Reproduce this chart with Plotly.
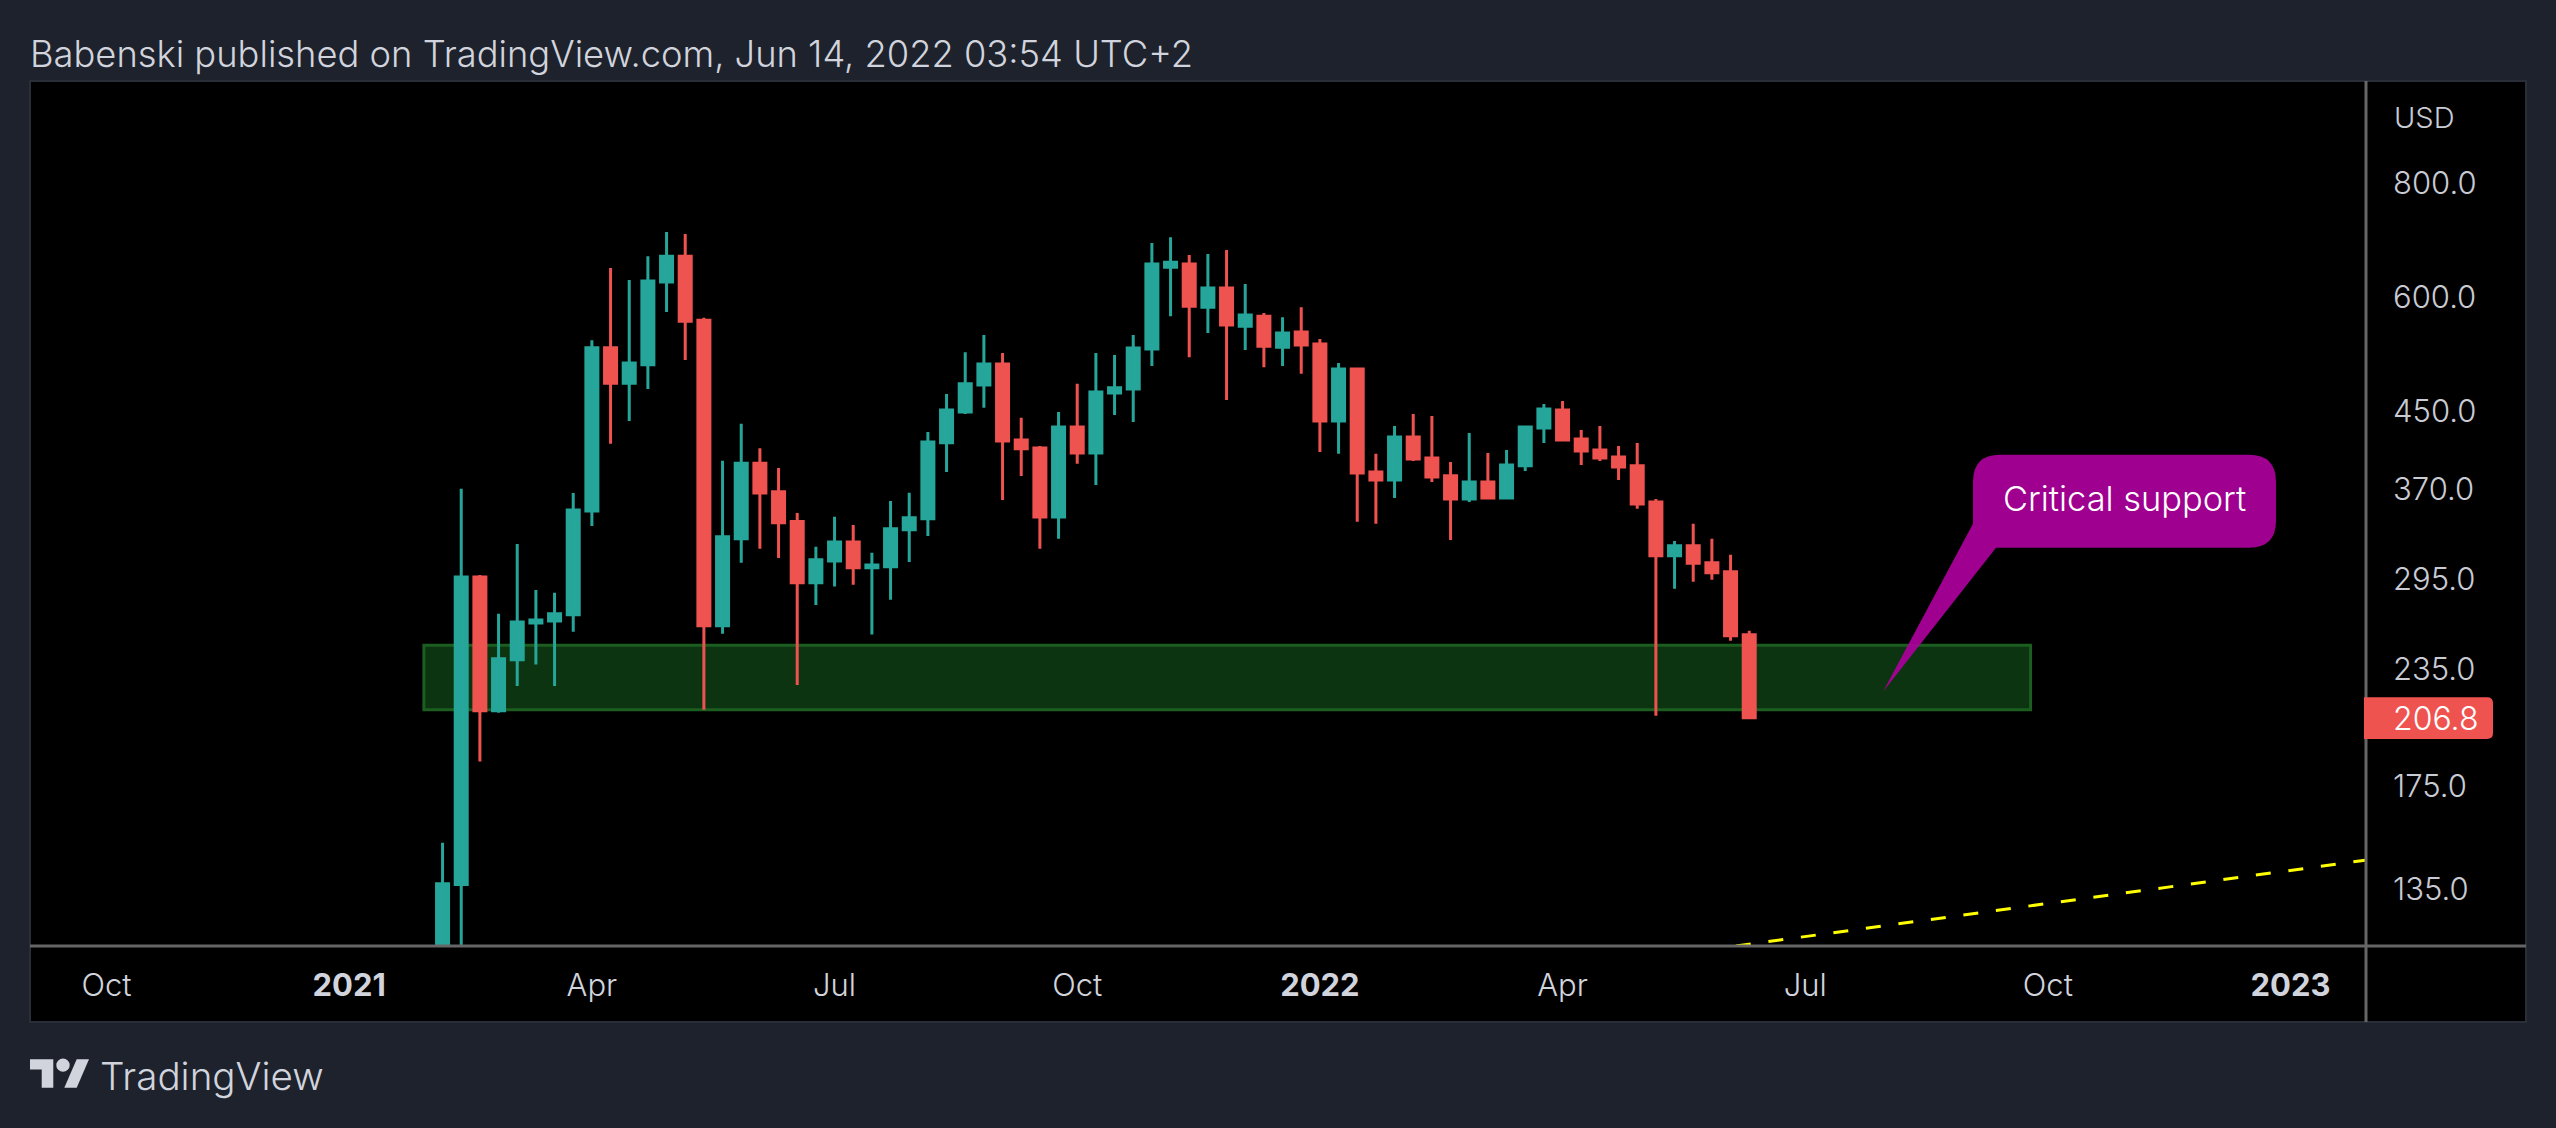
import numpy as np
import pandas as pd
import plotly.graph_objs as go

# weekly candles, first bar is the week of 2021-02-08
dates = pd.date_range("2021-02-08", periods=71, freq="7D")

opens = [88, 135.8, 295.0, 210.5, 239.4, 262.7, 264.0, 268.2, 348.3, 525.8, 481.0, 503.8, 620.8, 662.4, 563.7,
         260.8, 324.9, 393.1, 365.8, 339.2, 290.8, 307.2, 322.2, 302.0, 302.7, 332.2, 341.6, 413.8, 447.2, 478.8,
         504.9, 416.8, 408.5, 343.2, 430.5, 403.4, 469.3, 474.0, 524.4, 644.4, 649.7, 582.6, 611.5, 555.3, 569.5,
         526.7, 547.1, 531.0, 437.1, 498.5, 384.5, 376.8, 419.9, 398.3, 380.7, 359.2, 374.9, 360.1, 390.4, 429.5,
         449.5, 417.8, 406.4, 399.3, 390.4, 356.5, 311.2, 319.1, 305.7, 298.9, 255.0]
highs = [150.9, 368.4, 296.5, 268.8, 320.5, 285.5, 283.4, 364.5, 536.1, 643.1, 623.7, 662.4, 704.0, 700.7, 567.1,
         395.5, 434.1, 408.2, 388.4, 346.7, 318.3, 343.3, 336.3, 313.6, 357.4, 364.8, 425.2, 468.1, 520.1, 543.1,
         519.1, 440.7, 410.4, 447.2, 480.1, 519.1, 516.4, 543.1, 685.0, 695.1, 664.4, 666.2, 672.8, 617.7, 574.1,
         568.1, 582.6, 537.7, 506.2, 499.7, 402.4, 431.8, 445.0, 442.8, 394.3, 424.2, 403.3, 406.4, 431.8, 456.4,
         459.8, 427.4, 431.8, 410.5, 413.6, 359.2, 323.1, 337.3, 324.8, 311.9, 257.6]
lows = [85, 108, 185.2, 209.5, 224.1, 236.5, 224.1, 257.0, 335.4, 412.8, 437.2, 474.0, 575.5, 509.9, 211.1,
        255.7, 305.7, 316.7, 309.4, 224.6, 274.9, 287.9, 289.3, 255.1, 278.5, 306.4, 327.2, 384.4, 445.1, 451.9,
        358.3, 380.5, 316.8, 324.8, 392.4, 372.1, 443.9, 436.2, 502.1, 569.5, 513.6, 545.9, 461.0, 522.9, 500.8,
        502.1, 492.4, 404.3, 402.4, 339.0, 337.3, 360.1, 395.3, 374.9, 323.9, 356.5, 360.1, 359.2, 385.5, 413.6,
        416.8, 391.3, 395.3, 376.8, 350.3, 207.9, 286.3, 291.5, 292.9, 251.1, 206.8]
closes = [136.1, 295.0, 210.5, 240.0, 263.4, 264.6, 268.8, 349.2, 525.8, 481.0, 506.2, 622.3, 662.4, 562.3, 260.8,
          326.5, 393.1, 364.5, 338.3, 290.8, 308.0, 322.2, 302.0, 304.0, 333.1, 342.5, 414.6, 449.5, 480.1, 504.9,
          415.6, 407.5, 343.2, 430.5, 403.4, 470.3, 475.3, 525.7, 649.7, 652.6, 584.1, 611.5, 556.9, 571.1, 528.0,
          545.9, 529.5, 437.1, 498.6, 383.5, 376.8, 419.9, 397.3, 379.7, 359.2, 374.9, 360.1, 391.3, 430.7, 450.7,
          416.8, 405.4, 398.3, 389.2, 354.7, 311.2, 319.1, 305.3, 298.1, 254.3, 206.8]

# support zone and the dashed trend line
zone_dates = ["2021-02-01", "2022-09-26 12:00"]
zone_prices = [211.0, 248.3]
trend_dates = ["2022-06-08", "2023-01-30"]
trend_prices = [116.3, 144.4]

price_ticks = [135, 175, 235, 295, 370, 450, 600, 800]
price_labels = ["135.0", "175.0", "235.0", "295.0", "370.0", "450.0", "600.0", "800.0"]
date_ticks = ["2020-10-05", "2021-01-04", "2021-04-05", "2021-07-05", "2021-10-04",
              "2022-01-03", "2022-04-04", "2022-07-04", "2022-10-03", "2023-01-02"]
date_labels = ["Oct", "<b>2021</b>", "Apr", "Jul", "Oct", "<b>2022</b>", "Apr", "Jul", "Oct", "<b>2023</b>"]
last_price = "206.8"

BG = "#1e222d"
TEXT = "#d1d4dc"
UP = "#26a69a"
DOWN = "#ef5350"
FONT = "Inter"

# plot area edges in page pixels
LEFT, RIGHT, TOP, BOTTOM = 30, 2366, 81, 946.5


def px(x):
    return (x - LEFT) / (RIGHT - LEFT)


def py(y):
    return (BOTTOM - y) / (BOTTOM - TOP)


def page_path(*cmds):
    # cmds are (letter, x, y) or (letter, x1, y1, x, y) in page pixels
    out = ""
    for c in cmds:
        out += c[0]
        vals = c[1:]
        out += " ".join(f"{px(vals[i]):.5f},{py(vals[i + 1]):.5f}" for i in range(0, len(vals), 2)) + " "
    return out + "Z"


fig = go.Figure()

fig.add_trace(go.Candlestick(
    x=dates, open=opens, high=highs, low=lows, close=closes,
    increasing=dict(line=dict(color=UP, width=3), fillcolor=UP),
    decreasing=dict(line=dict(color=DOWN, width=3), fillcolor=DOWN),
    whiskerwidth=0, showlegend=False,
))
fig.add_trace(go.Scatter(
    x=trend_dates, y=trend_prices, mode="lines", showlegend=False,
    line=dict(color="#ffff00", width=3, dash="15px,17.8px"),
))

shapes = [
    # black panel with its border
    dict(type="rect", xref="paper", yref="paper", x0=px(30), x1=px(2526), y0=py(1022.5), y1=py(81),
         fillcolor="#000000", line=dict(color="#2a2e39", width=2), layer="below"),
    # support zone
    dict(type="rect", xref="x", yref="y", x0=zone_dates[0], x1=zone_dates[1], y0=zone_prices[0], y1=zone_prices[1],
         fillcolor="#0c3410", line=dict(color="#1b5e20", width=3), layer="below"),
    # axis lines
    dict(type="line", xref="paper", yref="paper", x0=px(RIGHT), x1=px(RIGHT), y0=py(1022.5), y1=py(81),
         line=dict(color="#666666", width=3), layer="above"),
    dict(type="line", xref="paper", yref="paper", x0=px(30), x1=px(2526), y0=py(BOTTOM), y1=py(BOTTOM),
         line=dict(color="#666666", width=3), layer="above"),
    # last price tag
    dict(type="path", xref="paper", yref="paper", layer="above", fillcolor=DOWN, line=dict(width=0),
         path=page_path(("M", 2364, 697.5), ("L", 2487, 697.5), ("Q", 2493, 697.5, 2493, 703.5),
                        ("L", 2493, 733.5), ("Q", 2493, 739.5, 2487, 739.5), ("L", 2364, 739.5))),
    # callout with its pointer
    dict(type="path", xref="paper", yref="paper", layer="above", fillcolor="rgba(172,0,155,0.92)", line=dict(width=0),
         path=page_path(("M", 2000, 455), ("L", 2249, 455), ("Q", 2276, 455, 2276, 482),
                        ("L", 2276, 521), ("Q", 2276, 548, 2249, 548), ("L", 1996, 548),
                        ("L", 1883, 692), ("L", 1973, 524), ("L", 1973, 482), ("Q", 1973, 455, 2000, 455))),
    # TradingView logo
    dict(type="path", xref="paper", yref="paper", fillcolor=TEXT, line=dict(width=0),
         path=page_path(("M", 30, 1059.7), ("L", 53.3, 1059.7), ("L", 53.3, 1088.3), ("L", 41.7, 1088.3),
                        ("L", 41.7, 1070), ("L", 30, 1070))),
    dict(type="circle", xref="paper", yref="paper", fillcolor=TEXT, line=dict(width=0),
         x0=px(56.3), x1=px(69.7), y0=py(1072.4), y1=py(1059)),
    dict(type="path", xref="paper", yref="paper", fillcolor=TEXT, line=dict(width=0),
         path=page_path(("M", 76.7, 1059.7), ("L", 89, 1059.7), ("L", 76.7, 1088.3), ("L", 64.3, 1088.3))),
]


def label(text, x, y, size, color=TEXT, anchor="left"):
    return dict(text=text, xref="paper", yref="paper", x=px(x), y=py(y), xanchor=anchor, yanchor="middle",
                showarrow=False, font=dict(family=FONT, size=size, color=color, weight=300),
                borderpad=0, borderwidth=0)


annotations = [
    label("Babenski published on TradingView.com, Jun 14, 2022 03:54 UTC+2", 30, 54, 36.3),
    label("USD", 2394, 118, 29, color="#c8cbd3"),
    label(last_price, 2435, 719, 32, color="#ffffff", anchor="center"),
    label("Critical support", 2124, 499, 34.4, color="#ffffff", anchor="center"),
    label("TradingView", 100, 1077, 38.6),
]

fig.update_layout(
    width=2556, height=1128,
    margin=dict(l=LEFT, r=2556 - RIGHT, t=TOP, b=1128 - BOTTOM, pad=0, autoexpand=False),
    paper_bgcolor=BG, plot_bgcolor="#000000",
    boxgap=0.357, boxgroupgap=0,
    shapes=shapes, annotations=annotations, showlegend=False,
    xaxis=dict(
        type="date", range=["2020-09-06 07:00", "2023-01-30 07:00"],
        tickmode="array", tickvals=date_ticks, ticktext=date_labels, tickangle=0,
        tickfont=dict(family=FONT, size=31, color=TEXT, weight=300),
        showgrid=False, zeroline=False, showline=False, ticks="", ticklabelstandoff=18,
        rangeslider=dict(visible=False),
    ),
    yaxis=dict(
        type="log", side="right", range=[np.log10(116.3), np.log10(1030.6)],
        tickmode="array", tickvals=price_ticks, ticktext=price_labels,
        tickfont=dict(family=FONT, size=31, color="#c8cbd3", weight=300),
        showgrid=False, zeroline=False, showline=False, ticks="", ticklabelstandoff=26,
        ticklabelshift=2,
    ),
)

fig.write_html("out.html", config=dict(displayModeBar=False),
               post_script="document.body.style.margin='0';document.body.style.overflow='hidden';")
